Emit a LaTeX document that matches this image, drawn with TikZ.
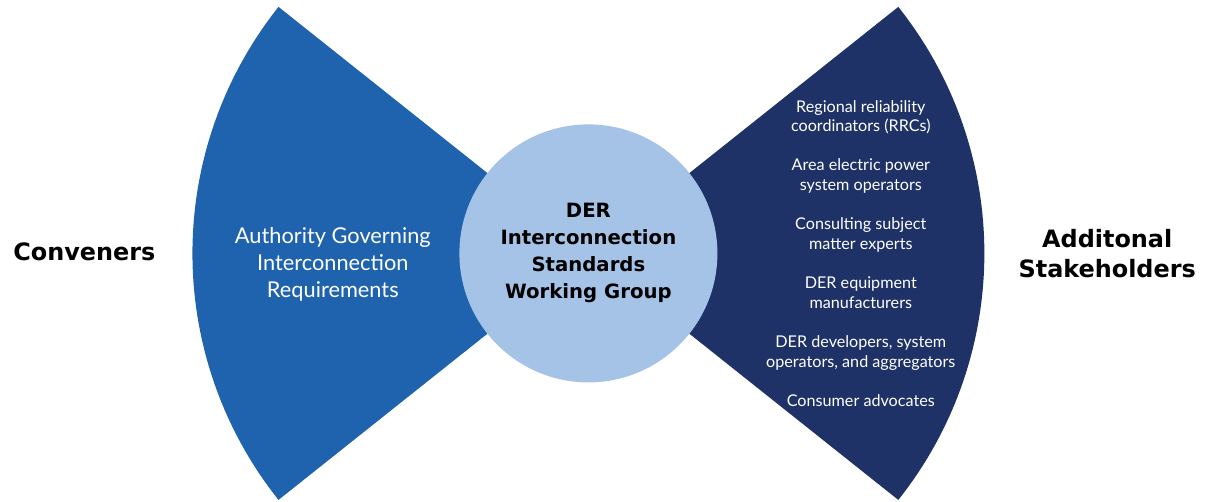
\documentclass[tikz,border=0pt]{standalone}
\usepackage{fontspec}
\setmainfont{Lato}
\newfontfamily\heavyfont{DejaVu Sans}
\usetikzlibrary{positioning}
\definecolor{conveneblue}{RGB}{31,99,174}
\definecolor{stakeblue}{RGB}{31,50,103}
\definecolor{wgblue}{RGB}{165,195,230}
\tikzset{
  heading/.style={font=\heavyfont\bfseries\fontsize{17}{21}\selectfont,align=center},
  wedgetext/.style={text=white,align=center},
}

\begin{document}
\begin{tikzpicture}[node distance=0.2cm,on grid,auto]
\useasboundingbox (0,0) rectangle (30.25,12.525);
\coordinate (c) at (14.71,6.19);
% wedges behind the working group
\fill[conveneblue] (c) -- ++(141.5:9.9) arc[start angle=141.5,end angle=218.5,radius=9.9] -- cycle;
\fill[stakeblue] (c) -- ++(38.5:9.9) arc[start angle=38.5,end angle=-38.5,radius=9.9] -- cycle;
\node[circle,fill=wgblue,minimum size=6.45cm,inner sep=0pt,align=center,font=\heavyfont\bfseries\fontsize{14}{19.2}\selectfont](wg) at (c) {DER\\Interconnection\\Standards\\Working Group};
\node[heading](conv)[left=12.6cm of wg,yshift=0.5mm]{Conveners};
\node[heading](addl)[right=12.97cm of wg]{Additonal\\Stakeholders};
\node[wedgetext,font=\fontsize{15.5}{19}\selectfont](agency)[left=6.39cm of wg,yshift=-2.7mm]{Authority Governing\\Interconnection\\Requirements};
\node[wedgetext,font=\fontsize{11.5}{14.2}\selectfont](stake)[right=6.81cm of wg]{Regional reliability\\coordinators (RRCs)\\[13.5pt]
  Area electric power\\system operators\\[13.5pt]
  Consulting subject\\matter experts\\[13.5pt]
  DER equipment\\manufacturers\\[13.5pt]
  DER developers, system\\operators, and aggregators\\[13.5pt]
  Consumer advocates};
\end{tikzpicture}
\end{document}
